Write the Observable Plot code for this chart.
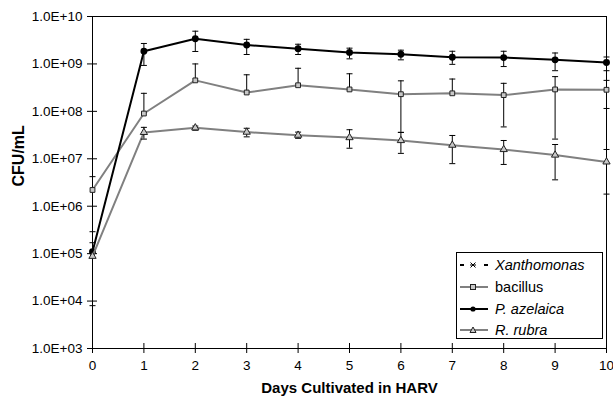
<!DOCTYPE html>
<html><head><meta charset="utf-8">
<script src="https://cdn.jsdelivr.net/npm/d3@7"></script>
<script src="https://cdn.jsdelivr.net/npm/@observablehq/plot@0.6"></script>
<style>
body{margin:0;background:#fff}
#wrap{position:relative;width:613px;height:400px;font-family:'Liberation Sans',Arial,sans-serif;color:#000}
#legend{position:absolute;left:456px;top:252px;width:147px;height:87px;border:1px solid #000;background:#fff;box-sizing:border-box}
.row{position:absolute;left:2px;height:20px;display:flex;align-items:center;font-size:14.5px;white-space:nowrap}
.row svg{margin-right:7px}
</style></head>
<body><div id="wrap"></div>
<script>
// ---- data ----
const days = [0, 1, 2, 3, 4, 5, 6, 7, 8, 9, 10];
const yTicks = [1e3, 1e4, 1e5, 1e6, 1e7, 1e8, 1e9, 1e10];
const seriesNames = ["Xanthomonas", "bacillus", "P. azelaica", "R. rubra"];
const xanthomonas = [];  // no plotted values visible
const bacillus     = [2.2e6, 9.0e7, 4.5e8, 2.5e8, 3.55e8, 2.9e8, 2.3e8, 2.4e8, 2.2e8, 2.9e8, 2.85e8];
const bacillusHigh = [4.2e6, 2.4e8, 1.0e9, 5.9e8, 8.1e8, 6.2e8, 4.4e8, 4.8e8, 3.9e8, 5.4e8, 4.5e8];
const bacillusLow  = [null, null, null, null, null, null, 3.6e7, null, 4.7e7, 2.6e7, 1.15e8];
const pAzelaica     = [1.1e5, 1.85e9, 3.4e9, 2.5e9, 2.1e9, 1.75e9, 1.6e9, 1.38e9, 1.36e9, 1.22e9, 1.07e9];
const pAzelaicaHigh = [2.9e5, 2.7e9, 4.9e9, 3.3e9, 2.6e9, 2.15e9, 1.95e9, 1.85e9, 1.85e9, 1.7e9, 1.4e9];
const pAzelaicaLow  = [8e3, 9.3e8, 1.83e9, 1.58e9, 1.58e9, 1.28e9, 1.22e9, 9.8e8, 8.8e8, 7.2e8, 7.2e8];
const rRubra     = [8.8e4, 3.6e7, 4.5e7, 3.65e7, 3.15e7, 2.8e7, 2.43e7, 1.94e7, 1.57e7, 1.2e7, 8.6e6];
const rRubraHigh = [1.7e5, 4.6e7, 4.9e7, 4.4e7, 3.65e7, 4.1e7, 3.6e7, 3.1e7, 2.43e7, 2.0e7, 1.57e7];
const rRubraLow  = [null, 2.6e7, 4.0e7, 2.9e7, 2.7e7, 1.67e7, 1.3e7, 7.9e6, 7.6e6, 3.6e6, 1.8e6];
const xTitle = "Days Cultivated in HARV";
const yTitle = "CFU/mL";

// ---- tables ----
function table(name, vals, hi, lo) {
  return vals.map((v, i) => ({series: name, day: days[i], value: v, high: hi[i], low: lo[i]}));
}
const bac = table("bacillus", bacillus, bacillusHigh, bacillusLow);
const paz = table("P. azelaica", pAzelaica, pAzelaicaHigh, pAzelaicaLow);
const rr  = table("R. rubra", rRubra, rRubraHigh, rRubraLow);

const cap = {draw(ctx) { ctx.moveTo(-3, 0); ctx.lineTo(3, 0); }};
const fmt = d => "1.0E+" + String(Math.round(Math.log10(d))).padStart(2, "0");

function errorMarks(data) {
  return [
    Plot.ruleX(data, {x: "day", y1: d => d.low ?? d.value, y2: "high", stroke: "#000", strokeWidth: 1}),
    Plot.dot(data, {x: "day", y: "high", symbol: cap, stroke: "#000", fill: "none", strokeWidth: 1}),
    Plot.dot(data.filter(d => d.low != null), {x: "day", y: "low", symbol: cap, stroke: "#000", fill: "none", strokeWidth: 1})
  ];
}

const chart = Plot.plot({
  width: 613, height: 400,
  marginLeft: 92, marginRight: 7, marginTop: 16, marginBottom: 52,
  style: {fontFamily: "'Liberation Sans', Arial, sans-serif", fontSize: "13.5px", background: "#fff", color: "#000", overflow: "visible"},
  x: {domain: [0, 10]},
  y: {type: "log", domain: [1e3, 1e10]},
  marks: [
    Plot.frame({stroke: "#000", strokeWidth: 1}),
    Plot.tickX(days, {x: d => d, insetTop: 322, dy: 5, stroke: "#000"}),
    Plot.tickY(yTicks, {y: d => d, insetRight: 504, dx: -5, stroke: "#000"}),
    Plot.axisX(days, {tickSize: 0, tickPadding: 12, tickFormat: d => String(d), label: null}),
    Plot.axisY(yTicks, {tickSize: 0, tickPadding: 10, tickFormat: fmt, label: null}),
    Plot.text([xTitle], {frameAnchor: "bottom", dy: 44, text: d => d, fontWeight: "bold", fontSize: 15}),
    Plot.text([yTitle], {frameAnchor: "left", dx: -74, dy: 4, rotate: -90, text: d => d, fontWeight: "bold", fontSize: 16}),
    // bacillus
    Plot.line(bac, {x: "day", y: "value", stroke: "#808080", strokeWidth: 2}),
    ...errorMarks(bac),
    Plot.dot(bac, {x: "day", y: "value", symbol: "square", r: 2.7, fill: "#c8c8c8", stroke: "#222", strokeWidth: 1}),
    // P. azelaica
    Plot.line(paz, {x: "day", y: "value", stroke: "#000", strokeWidth: 2}),
    ...errorMarks(paz),
    Plot.dot(paz, {x: "day", y: "value", symbol: "circle", r: 2.7, fill: "#000", stroke: "#000"}),
    // R. rubra
    Plot.line(rr, {x: "day", y: "value", stroke: "#808080", strokeWidth: 2}),
    ...errorMarks(rr),
    Plot.dot(rr, {x: "day", y: "value", symbol: "triangle", r: 2.7, fill: "#c8c8c8", stroke: "#222", strokeWidth: 1})
  ]
});
const wrap = document.getElementById("wrap");
wrap.appendChild(chart);

// ---- legend ----
const legendStyles = [
  {stroke: "#000", dash: "4,20", marker: "star", italic: true},
  {stroke: "#808080", dash: null, marker: "square", italic: false},
  {stroke: "#000", dash: null, marker: "circle", italic: true},
  {stroke: "#808080", dash: null, marker: "triangle", italic: true}
];
const legend = document.createElement("div");
legend.id = "legend";
const rowTops = [2, 24, 45.5, 67];
seriesNames.forEach((name, i) => {
  const s = legendStyles[i];
  const row = document.createElement("div");
  row.className = "row";
  row.style.top = rowTops[i] + "px";
  let m = "";
  if (s.marker === "square") m = `<rect x="11.5" y="7.5" width="5" height="5" fill="#c8c8c8" stroke="#222"/>`;
  if (s.marker === "circle") m = `<circle cx="14" cy="10" r="2.6" fill="#000"/>`;
  if (s.marker === "triangle") m = `<path d="M14,7 L17,12.5 L11,12.5 Z" fill="#c8c8c8" stroke="#222"/>`;
  if (s.marker === "star") m = `<path d="M11.5,7.5 L16.5,12.5 M16.5,7.5 L11.5,12.5 M11,10 L17,10" stroke="#000" stroke-width="1"/>`;
  row.innerHTML = `<svg width="29" height="20"><line x1="1" y1="10" x2="29" y2="10" stroke="${s.stroke}" stroke-width="2" ${s.dash ? `stroke-dasharray="${s.dash}"` : ""}/>${m}</svg><span style="font-style:${s.italic ? "italic" : "normal"}">${name}</span>`;
  legend.appendChild(row);
});
wrap.appendChild(legend);
</script>
</body></html>
